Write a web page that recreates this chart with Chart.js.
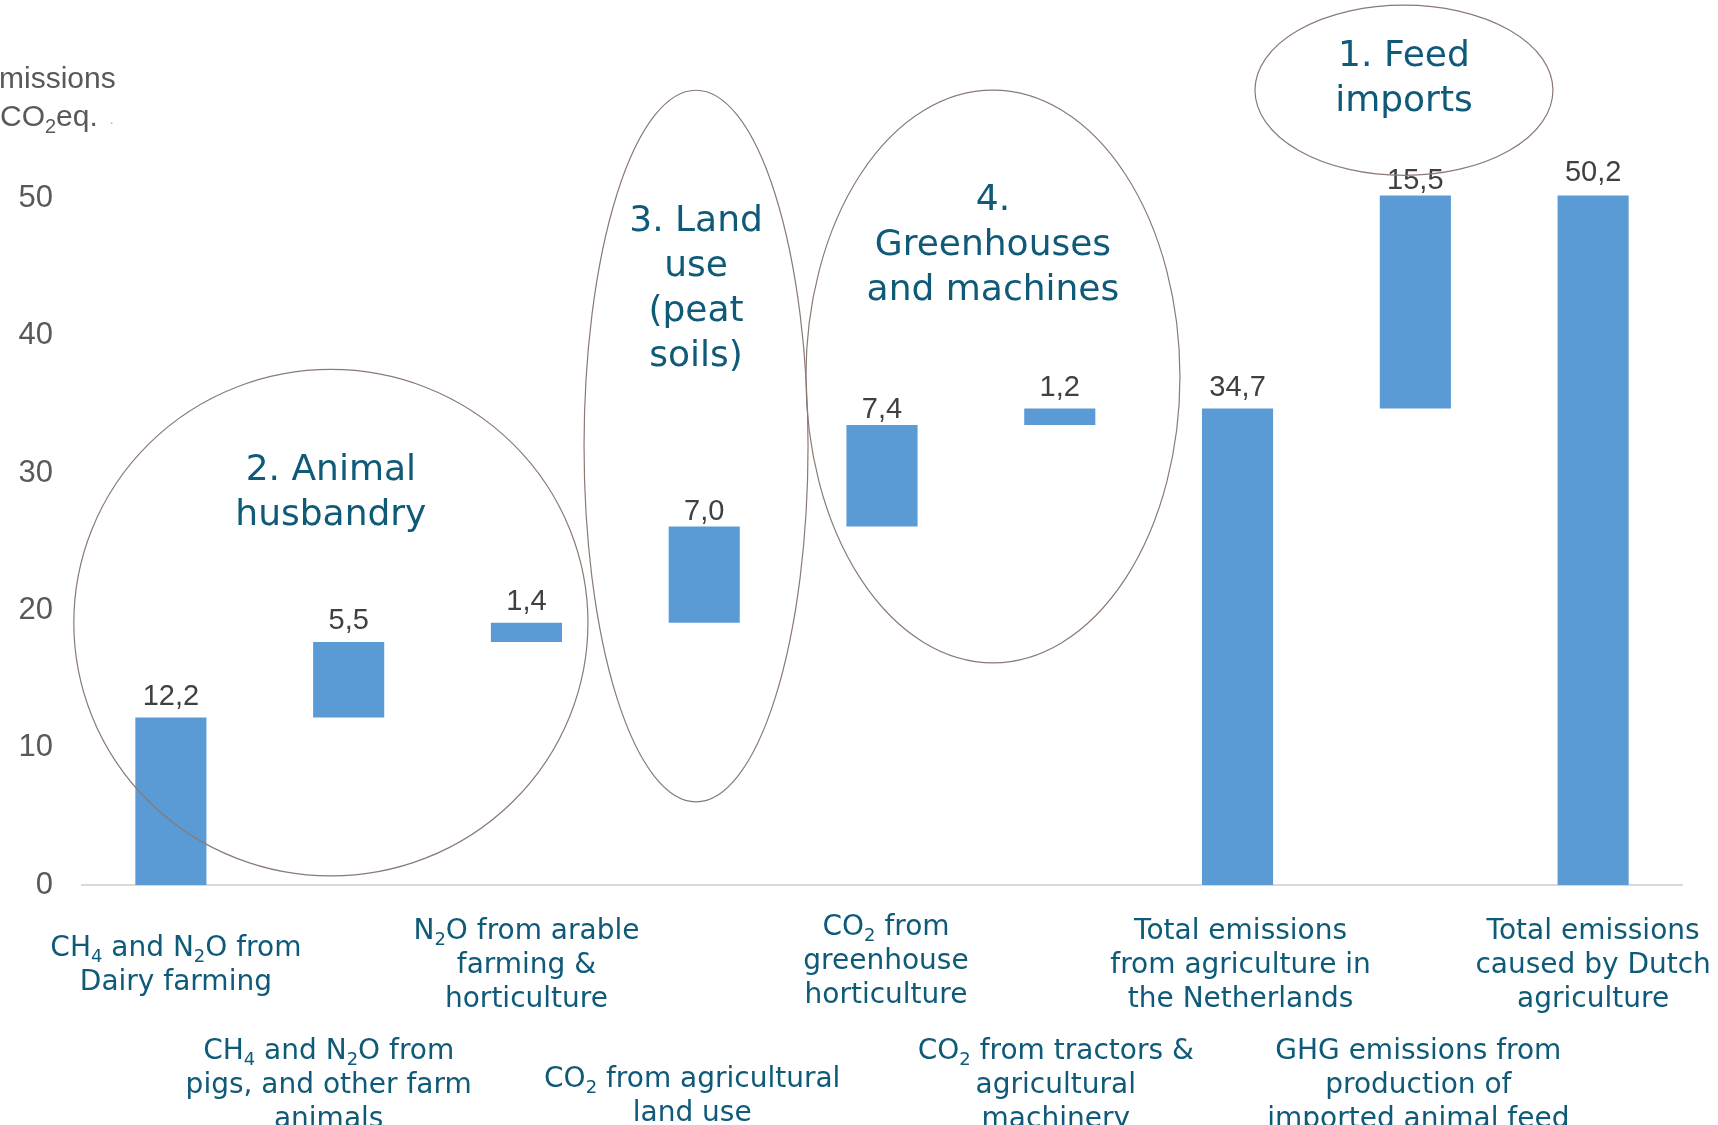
<!DOCTYPE html>
<html lang="en">
<head>
<meta charset="UTF-8">
<title>Greenhouse gas emissions from Dutch agriculture</title>
<script src="https://cdn.jsdelivr.net/npm/chart.js"></script>
<style>
  html, body { margin: 0; padding: 0; background: #fff; }
  #wrap { width: 1718px; height: 1125px; }
</style>
</head>
<body>
<div id="wrap"><canvas id="chart" width="1718" height="1125"></canvas></div>
<script>
// Emission sources (Mton CO2eq). "_n" marks a subscript digit.
const categories = [
  ['CH_4 and N_2O from', 'Dairy farming'],
  ['CH_4 and N_2O from', 'pigs, and other farm', 'animals'],
  ['N_2O from arable', 'farming &', 'horticulture'],
  ['CO_2 from agricultural', 'land use'],
  ['CO_2 from', 'greenhouse', 'horticulture'],
  ['CO_2 from tractors &', 'agricultural', 'machinery'],
  ['Total emissions', 'from agriculture in', 'the Netherlands'],
  ['GHG emissions from', 'production of', 'imported animal feed'],
  ['Total emissions', 'caused by Dutch', 'agriculture']
];
const values = [12.2, 5.5, 1.4, 7.0, 7.4, 1.2, 34.7, 15.5, 50.2];
const isTotal = [false, false, false, false, false, false, true, false, true];
const yTicks = [0, 10, 20, 30, 40, 50];

// Circled groups, in axis units (category index / emission value)
const groups = [
  { lines: ['2. Animal', 'husbandry'], cx: 0.90, cy: 19.10, rx: 1.446, ry: 18.44, ty: 28.51 },
  { lines: ['3. Land', 'use', '(peat', 'soils)'], cx: 2.954, cy: 31.96, rx: 0.63, ry: 25.91, ty: 43.38 },
  { lines: ['4.', 'Greenhouses', 'and machines'], cx: 4.624, cy: 37.03, rx: 1.052, ry: 20.85, ty: 46.52 },
  { lines: ['1. Feed', 'imports'], cx: 6.936, cy: 57.87, rx: 0.838, ry: 6.2, ty: 58.65 }
];

const TEAL = '#0e5a78';
const BAR = '#5b9bd5';
const GREY = '#595959';

// waterfall: steps stack on the running total, totals start from zero
let running = 0;
const ranges = values.map((v, i) => {
  if (isTotal[i]) { running = v; return [0, v]; }
  const r = [running, +(running + v).toFixed(1)];
  running = r[1];
  return r;
});

// two rows of category labels, alternating
const labelRowOffset = [81, 201];
const labelNudge = { 0: [5, 0], 3: [-12, 11], 4: [4, -4], 5: [-4, 0], 1: [-20, 0], 6: [3, 0], 7: [3, 0] };
// value labels that sit a little closer to their bar
const valueDrop = { 3: 6, 4: 6, 7: 6, 8: -2 };

function drawRich(ctx, text, cx, cy, size, family) {
  const parts = text.split(/_(\d)/);
  const sub = Math.round(size * 0.65);
  let total = 0;
  const widths = parts.map((p, i) => {
    ctx.font = (i % 2 ? sub : size) + 'px ' + family;
    const w = ctx.measureText(p).width;
    total += w;
    return w;
  });
  let x = cx - total / 2;
  parts.forEach((p, i) => {
    ctx.font = (i % 2 ? sub : size) + 'px ' + family;
    ctx.fillText(p, x, i % 2 ? cy + size * 0.3 : cy);
    x += widths[i];
  });
}

const overlay = {
  id: 'overlay',
  afterDatasetsDraw(chart) {
    const ctx = chart.ctx;
    const meta = chart.getDatasetMeta(0);
    ctx.save();
    ctx.fillStyle = '#404040';
    ctx.font = '29px "Liberation Sans", Arial, sans-serif';
    ctx.textAlign = 'center';
    ctx.textBaseline = 'bottom';
    meta.data.forEach((bar, i) => {
      ctx.fillText(values[i].toFixed(1).replace('.', ','), bar.x, bar.y - 6 + (valueDrop[i] || 0));
    });
    ctx.restore();
  },
  afterDraw(chart) {
    const ctx = chart.ctx;
    const xs = chart.scales.x;
    const ys = chart.scales.y;
    const area = chart.chartArea;
    ctx.save();

    // category labels below the axis
    ctx.fillStyle = TEAL;
    ctx.textAlign = 'left';
    ctx.textBaseline = 'middle';
    categories.forEach((lines, i) => {
      const nudge = labelNudge[i] || [0, 0];
      const cx = xs.getPixelForValue(i) + nudge[0];
      const mid = area.bottom + labelRowOffset[i % 2] + nudge[1];
      const lh = 34;
      lines.forEach((ln, k) => {
        const y = mid + (k - (lines.length - 1) / 2) * lh;
        drawRich(ctx, ln, cx, y, 28, '"DejaVu Sans", Verdana, sans-serif');
      });
    });

    // group ellipses and captions
    groups.forEach(g => {
      const px = xs.getPixelForValue(g.cx);
      const py = ys.getPixelForValue(g.cy);
      const rx = xs.getPixelForValue(g.cx + g.rx) - px;
      const ry = ys.getPixelForValue(g.cy - g.ry) - py;
      ctx.beginPath();
      ctx.ellipse(px, py, rx, ry, 0, 0, Math.PI * 2);
      ctx.strokeStyle = '#8a7a74';
      ctx.lineWidth = 1.2;
      ctx.stroke();

      const ty = ys.getPixelForValue(g.ty);
      ctx.fillStyle = TEAL;
      ctx.textAlign = 'center';
      ctx.textBaseline = 'middle';
      ctx.font = '36px "DejaVu Sans", Verdana, sans-serif';
      g.lines.forEach((ln, k) => {
        ctx.fillText(ln, px, ty + (k - (g.lines.length - 1) / 2) * 45);
      });
    });

    // y axis title, partly cut at the left edge
    ctx.fillStyle = GREY;
    ctx.textAlign = 'left';
    ctx.textBaseline = 'alphabetic';
    ctx.font = '30px "Liberation Sans", Arial, sans-serif';
    ctx.fillText('Emissions', -21, 88);
    let x = 0;
    ctx.fillText('CO', x, 126);
    x += ctx.measureText('CO').width;
    ctx.font = '20px "Liberation Sans", Arial, sans-serif';
    ctx.fillText('2', x, 133);
    x += ctx.measureText('2').width;
    ctx.font = '30px "Liberation Sans", Arial, sans-serif';
    ctx.fillText('eq.', x, 126);
    x += ctx.measureText('eq.').width + 12;
    ctx.font = '14px "Liberation Sans", Arial, sans-serif';
    ctx.fillStyle = '#aaaaaa';
    ctx.fillText('.', x, 124);
    ctx.restore();
  }
};

new Chart(document.getElementById('chart'), {
  type: 'bar',
  data: {
    labels: categories.map(c => c.join(' ')),
    datasets: [{
      data: ranges,
      backgroundColor: BAR,
      borderWidth: 0,
      barPercentage: 0.8,
      categoryPercentage: 0.5,
      clip: false
    }]
  },
  options: {
    responsive: false,
    animation: false,
    layout: { padding: { top: 61, right: 36, bottom: 240, left: 0 } },
    plugins: {
      legend: { display: false },
      tooltip: { enabled: false }
    },
    scales: {
      x: {
        grid: { display: false, drawTicks: false },
        ticks: { display: false },
        border: { color: '#d9d9d9', width: 2 }
      },
      y: {
        min: 0,
        max: 60,
        afterBuildTicks: s => { s.ticks = yTicks.map(v => ({ value: v })); },
        afterFit: s => { s.width = 82; },
        grid: { display: false, drawTicks: false },
        border: { display: false },
        ticks: {
          padding: 29,
          color: GREY,
          font: { family: '"Liberation Sans", Arial, sans-serif', size: 31 }
        }
      }
    }
  },
  plugins: [overlay]
});
</script>
</body>
</html>
